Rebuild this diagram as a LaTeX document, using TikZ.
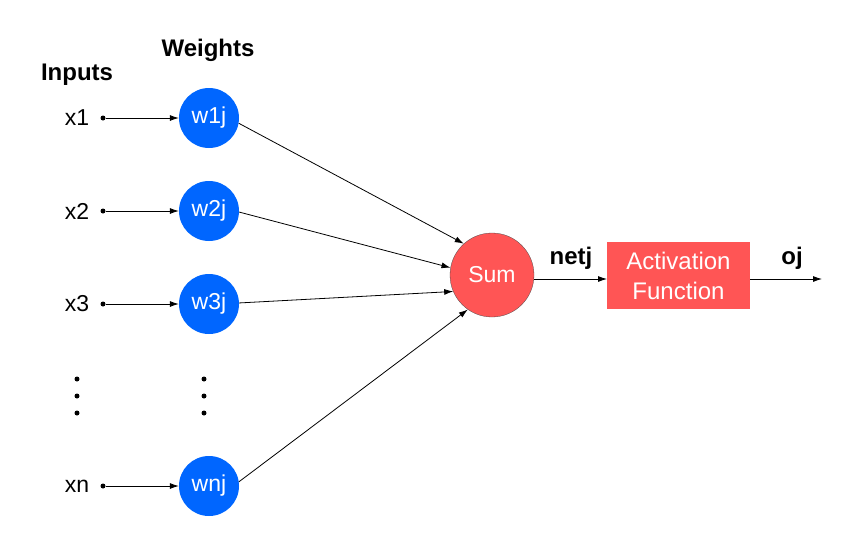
\documentclass[tikz,border=0pt]{standalone}
\usepackage{fontspec}
\setmainfont{Liberation Sans}
\usetikzlibrary{arrows.meta}
\definecolor{wblue}{HTML}{0066FF}
\definecolor{sred}{HTML}{FF5555}
\begin{document}
\begin{tikzpicture}[x=1pt,y=-1pt,
  weight/.style={circle,fill=wblue,minimum size=60pt,inner sep=0pt,text=white,font=\fontsize{23}{23}\selectfont},
  dotnode/.style={circle,fill=black,minimum size=5pt,inner sep=0pt},
  lab/.style={font=\fontsize{23}{23}\selectfont},
  head/.style={font=\bfseries\fontsize{24}{24}\selectfont},
  conn/.style={-{Latex[length=9pt,width=6pt]},line width=0.8pt},
  smalldot/.style={circle,fill=black,minimum size=5pt,inner sep=0pt}]
\useasboundingbox (0,0) rectangle (859,550);
\node[head] (inputs) at (77,75) {Inputs};
\node[head] (weights) at (208,50) {Weights};
\foreach \i/\y in {1/118,2/211,3/304,n/486}{
  \node[lab] (x\i) at (77,\y) {x\i};
  \node[dotnode] (d\i) at (103,\y) {};
  \node[weight] (w\i) at (209,\y) {w\i j};
  \draw[conn] (d\i) -- (w\i);
}
\foreach \y in {379,396,413}{
  \node[smalldot] at (77,\y) {};
  \node[smalldot] at (204,\y) {};
}
\node[circle,fill=sred,draw=black!70,line width=0.3pt,minimum size=84pt,inner sep=0pt,text=white,font=\fontsize{23}{23}\selectfont] (sum) at (492,275) {Sum};
\node[rectangle,fill=sred,minimum width=143pt,minimum height=67pt,inner sep=0pt,text=white,align=center,font=\fontsize{24}{30}\selectfont] (act) at (678.5,275.5) {Activation\\Function};
\draw[conn] (w1.-10) -- (sum.132);
\draw[conn] (w2.-2) -- (sum.170);
\draw[conn] (w3.2) -- (sum.203);
\draw[conn] (wn.8) -- (sum.235);
\coordinate (sumr) at (534,279);
\coordinate (actl) at (607,279);
\coordinate (actr) at (750,279);
\coordinate (out) at (822,279);
\draw[conn] (sumr) -- (actl);
\draw[conn] (actr) -- (out);
\node[head] (netj) at (571,258) {netj};
\node[head] (oj) at (792,258) {oj};
\end{tikzpicture}
\end{document}
